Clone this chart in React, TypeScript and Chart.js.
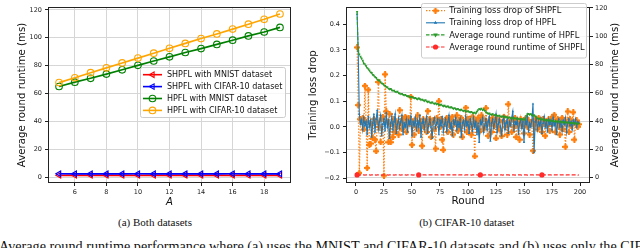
import React, { useEffect, useRef } from "react";
import { Chart, registerables } from "chart.js";
import { drawPoint } from "chart.js/helpers";

Chart.register(...registerables);

const FONT = "'DejaVu Sans', sans-serif";

// ---------- (a) Both datasets ----------
const A_VALUES = [5, 6, 7, 8, 9, 10, 11, 12, 13, 14, 15, 16, 17, 18, 19];
const SHPFL_MNIST = [1.32, 1.28, 1.31, 1.29, 1.3, 1.33, 1.27, 1.3, 1.31, 1.29, 1.3, 1.32, 1.28, 1.3, 1.31];
const SHPFL_CIFAR = [2.42, 2.38, 2.41, 2.39, 2.4, 2.43, 2.37, 2.4, 2.41, 2.39, 2.4, 2.42, 2.38, 2.4, 2.41];
const HPFL_MNIST = [65.0, 68.1, 70.9, 73.9, 77.0, 80.2, 83.3, 86.3, 89.4, 92.2, 95.2, 98.2, 101.3, 104.1, 107.4];
const HPFL_CIFAR = [67.8, 71.3, 74.9, 78.4, 81.9, 85.4, 88.9, 92.4, 95.9, 99.4, 102.7, 106.2, 109.7, 113.2, 117.0];
const A_TICKS = [6, 8, 10, 12, 14, 16, 18];
const RUNTIME_A_TICKS = [0, 20, 40, 60, 80, 100, 120];

// ---------- (b) CIFAR-10 dataset ----------
const ROUNDS = Array.from({ length: 199 }, (_, i) => i + 1);
const LOSS_SHPFL = [
  0.31, 0.085, -0.18, 0.03, 0.02, 0.035, -0.01, 0.16, 0.02, -0.16,
  0.145, -0.07, -0.065, 0.01, -0.045, 0.03, -0.05, -0.095, 0.02, 0.175,
  0.0, -0.06, 0.03, 0.04, -0.19, 0.205, 0.06, 0.02, -0.06, 0.05,
  -0.06, 0.01, -0.04, 0.03, -0.02, 0.02, 0.0, -0.03, 0.065, 0.015,
  -0.01, 0.03, 0.005, 0.04, -0.02, 0.025, 0.035, 0.01, 0.117, -0.07,
  0.02, -0.03, 0.03, 0.0, 0.045, -0.015, 0.02, 0.01, -0.074, 0.03,
  0.0, 0.02, -0.02, 0.062, 0.01, 0.03, -0.04, 0.015, 0.025, -0.01,
  -0.085, 0.035, 0.02, 0.1, 0.0, 0.03, -0.05, -0.09, 0.02, 0.01,
  0.035, -0.02, 0.015, 0.03, 0.0, 0.04, -0.03, 0.02, 0.01, 0.045,
  -0.015, 0.025, 0.0, 0.035, -0.04, 0.02, 0.01, 0.075, -0.02, 0.03,
  0.0, 0.02, -0.03, 0.04, 0.01, -0.115, 0.025, 0.0, 0.035, -0.02,
  0.02, 0.045, -0.01, 0.03, 0.0, 0.073, 0.01, -0.035, 0.025, 0.015,
  -0.02, 0.035, 0.005, 0.02, -0.045, 0.03, 0.0, 0.025, -0.015, -0.036,
  0.02, 0.04, 0.0, 0.015, -0.03, 0.088, 0.01, 0.025, -0.02, 0.03,
  0.0, 0.035, -0.04, 0.02, 0.01, -0.05, 0.03, 0.005, 0.02, -0.025,
  0.015, 0.035, 0.0, 0.025, -0.03, 0.02, 0.01, -0.093, 0.005, 0.03,
  0.02, -0.01, 0.035, 0.0, 0.025, -0.02, 0.03, 0.01, -0.035, 0.02,
  0.005, 0.03, -0.015, 0.025, 0.01, 0.04, 0.047, -0.02, 0.015, 0.03,
  0.0, -0.03, 0.02, 0.035, -0.01, 0.025, -0.078, 0.01, 0.06, -0.02,
  0.03, 0.005, 0.02, 0.057, -0.05, 0.015, 0.025, 0.0, 0.01,
];
const LOSS_HPFL = [
  0.44, 0.295, 0.05, 0.012, 0.028, -0.01, 0.035, 0.005, 0.02, -0.03,
  0.04, 0.0, 0.025, -0.04, 0.015, 0.05, -0.02, 0.03, 0.065, -0.01,
  0.02, 0.045, -0.035, 0.01, 0.03, -0.015, 0.055, 0.0, 0.025, -0.045,
  0.015, 0.04, -0.01, 0.02, 0.05, -0.025, 0.01, 0.035, -0.005, 0.02,
  0.045, -0.03, 0.015, 0.0, 0.03, -0.02, 0.025, 0.01, 0.04, -0.035,
  0.02, 0.005, 0.035, -0.015, 0.025, 0.0, 0.045, -0.04, 0.015, 0.03,
  -0.01, 0.02, 0.04, -0.025, 0.01, 0.03, 0.0, -0.045, 0.02, 0.035,
  -0.005, 0.015, 0.03, -0.03, 0.025, 0.005, 0.04, -0.02, 0.01, 0.03,
  -0.015, 0.02, 0.045, -0.005, 0.015, -0.035, 0.025, 0.01, 0.035, -0.01,
  0.02, 0.0, 0.03, -0.04, 0.015, 0.025, -0.01, 0.04, 0.005, 0.02,
  -0.025, 0.03, 0.01, -0.015, 0.035, 0.0, 0.02, -0.03, 0.015, -0.06,
  0.025, 0.01, 0.035, -0.02, 0.005, 0.03, -0.01, 0.02, 0.04, -0.055,
  0.015, 0.03, -0.005, 0.02, 0.05, -0.02, 0.01, 0.03, 0.0, -0.035,
  0.025, 0.04, -0.01, 0.015, 0.03, -0.025, 0.02, 0.005, 0.035, 0.06,
  -0.015, 0.02, 0.01, 0.03, -0.03, 0.015, 0.025, -0.005, 0.02, -0.06,
  0.03, 0.01, 0.04, -0.02, 0.015, 0.0, 0.025, 0.09, -0.1, 0.02,
  0.035, -0.01, 0.02, 0.005, 0.03, -0.025, 0.015, 0.04, 0.0, 0.02,
  -0.02, 0.03, 0.01, 0.025, -0.01, 0.035, 0.005, 0.02, -0.03, 0.015,
  0.03, 0.0, 0.02, -0.015, 0.025, 0.01, 0.035, -0.02, 0.015, 0.03,
  0.005, 0.02, -0.01, 0.025, 0.01, 0.03, 0.0, 0.02, 0.015,
];
const RUNTIME_HPFL = [
  117.2, 89.5, 87.1, 85.6, 84.2, 82.9, 80.8, 80.1, 79.0, 77.6,
  76.9, 75.8, 74.6, 74.1, 72.8, 72.3, 71.2, 70.6, 69.4, 68.7,
  68.9, 67.5, 66.8, 66.4, 65.3, 65.0, 64.2, 63.9, 63.1, 62.6,
  62.8, 61.9, 61.4, 61.7, 60.8, 60.5, 60.9, 59.8, 59.6, 59.1,
  59.4, 58.7, 58.2, 58.6, 57.9, 57.5, 57.8, 57.1, 56.8, 57.2,
  56.5, 56.1, 56.6, 55.9, 55.4, 56.2, 55.6, 55.0, 55.3, 54.7,
  54.3, 54.9, 54.1, 53.6, 53.9, 53.2, 52.8, 53.4, 52.6, 52.3,
  52.7, 51.9, 52.2, 51.6, 51.3, 51.8, 51.0, 50.6, 51.1, 50.4,
  50.1, 50.5, 49.8, 49.4, 49.9, 49.2, 48.8, 49.3, 48.6, 48.3,
  48.7, 48.0, 47.7, 48.2, 47.5, 47.2, 47.6, 46.9, 46.7, 47.1,
  46.5, 46.2, 46.6, 45.9, 45.7, 46.1, 45.4, 46.8, 47.9, 48.6,
  48.2, 48.9, 47.8, 48.4, 47.3, 46.5, 45.8, 45.2, 45.6, 44.9,
  44.6, 45.0, 44.3, 44.1, 44.5, 43.8, 43.6, 44.0, 43.3, 43.1,
  43.5, 42.8, 43.2, 42.6, 42.9, 42.3, 42.7, 42.1, 42.4, 41.9,
  42.2, 41.7, 42.0, 41.5, 41.8, 41.3, 41.6, 41.1, 41.4, 40.9,
  41.2, 43.6, 44.8, 45.3, 44.6, 45.1, 44.2, 43.8, 44.4, 43.5,
  42.7, 42.1, 41.6, 41.9, 41.3, 41.0, 41.4, 40.8, 40.6, 41.0,
  40.4, 40.7, 40.2, 40.5, 39.9, 40.3, 39.8, 40.1, 39.6, 39.9,
  39.5, 39.8, 39.3, 39.6, 39.1, 39.4, 38.9, 39.2, 38.8, 39.0,
  38.6, 38.9, 38.5, 38.7, 38.3, 38.6, 38.2, 38.4, 38.1,
];
const RUNTIME_SHPFL = [
  2.0, 2.1, 1.9, 2.0, 2.0, 2.1, 2.0, 1.9, 2.0, 2.1,
  2.0, 2.0, 1.9, 2.1, 2.0, 2.0, 2.1, 1.9, 2.0, 2.0,
  2.1, 2.0, 1.9, 2.0, 2.0, 2.1, 2.0, 2.0, 1.9, 2.0,
  2.0, 2.1, 2.0, 1.9, 2.0, 2.0, 2.1, 2.0, 2.0, 1.9,
  2.0, 2.0, 2.1, 2.0, 1.9, 2.0, 2.1, 2.0, 2.0, 2.0,
  1.9, 2.0, 2.1, 2.0, 2.0, 2.0, 1.9, 2.1, 2.0, 2.0,
  2.0, 2.1, 1.9, 2.0, 2.0, 2.0, 2.1, 2.0, 1.9, 2.0,
  2.1, 2.0, 2.0, 1.9, 2.0, 2.1, 2.0, 2.0, 2.0, 1.9,
  2.0, 2.1, 2.0, 2.0, 1.9, 2.0, 2.0, 2.1, 2.0, 2.0,
  1.9, 2.0, 2.1, 2.0, 2.0, 2.0, 1.9, 2.0, 2.1, 2.0,
  2.0, 2.0, 1.9, 2.1, 2.0, 2.0, 2.0, 2.1, 1.9, 2.0,
  2.0, 2.1, 2.0, 1.9, 2.0, 2.0, 2.1, 2.0, 2.0, 1.9,
  2.0, 2.0, 2.1, 2.0, 1.9, 2.0, 2.0, 2.1, 2.0, 2.0,
  1.9, 2.0, 2.0, 2.1, 2.0, 2.0, 1.9, 2.0, 2.1, 2.0,
  2.0, 1.9, 2.0, 2.0, 2.1, 2.0, 2.0, 1.9, 2.0, 2.1,
  2.0, 2.0, 1.9, 2.0, 2.1, 2.0, 2.0, 2.0, 1.9, 2.0,
  2.1, 2.0, 2.0, 1.9, 2.0, 2.0, 2.1, 2.0, 2.0, 1.9,
  2.0, 2.1, 2.0, 2.0, 1.9, 2.0, 2.0, 2.1, 2.0, 2.0,
  1.9, 2.0, 2.1, 2.0, 2.0, 2.0, 1.9, 2.0, 2.1, 2.0,
  2.0, 1.9, 2.0, 2.1, 2.0, 2.0, 2.0, 1.9, 2.0,
];
const ROUND_TICKS = [0, 25, 50, 75, 100, 125, 150, 175, 200];
const LOSS_TICKS = [-0.2, -0.1, 0.0, 0.1, 0.2, 0.3, 0.4];
const RUNTIME_B_TICKS = [0, 20, 40, 60, 80, 100, 120];

const TICK_COLOR = "#222";
const GRID_COLOR = "#d6d6d6";

function makePlus(color: string): HTMLCanvasElement {
  const c = document.createElement("canvas");
  c.width = 6;
  c.height = 6;
  const g = c.getContext("2d")!;
  g.fillStyle = color;
  g.beginPath();
  g.moveTo(2, 0); g.lineTo(4, 0); g.lineTo(4, 2); g.lineTo(6, 2); g.lineTo(6, 4);
  g.lineTo(4, 4); g.lineTo(4, 6); g.lineTo(2, 6); g.lineTo(2, 4); g.lineTo(0, 4);
  g.lineTo(0, 2); g.lineTo(2, 2); g.closePath();
  g.fill();
  g.globalAlpha = 0.55;
  g.fillRect(1, 1, 4, 4);
  return c;
}

type LegendEntry = {
  label: string;
  color: string;
  dash: number[];
  lineWidth: number;
  point: any;
  fill: string;
};

function legendPlugin(
  id: string,
  box: { x: number; y: number; w: number; h: number },
  rows: { y0: number; dy: number; x0: number; x1: number; tx: number },
  entries: LegendEntry[],
  fontSize: number
) {
  return {
    id,
    afterDraw(chart: any) {
      const ctx: CanvasRenderingContext2D = chart.ctx;
      ctx.save();
      ctx.beginPath();
      const r = 2;
      const { x, y, w, h } = box;
      ctx.moveTo(x + r, y);
      ctx.lineTo(x + w - r, y);
      ctx.quadraticCurveTo(x + w, y, x + w, y + r);
      ctx.lineTo(x + w, y + h - r);
      ctx.quadraticCurveTo(x + w, y + h, x + w - r, y + h);
      ctx.lineTo(x + r, y + h);
      ctx.quadraticCurveTo(x, y + h, x, y + h - r);
      ctx.lineTo(x, y + r);
      ctx.quadraticCurveTo(x, y, x + r, y);
      ctx.closePath();
      ctx.fillStyle = "rgba(255,255,255,0.8)";
      ctx.fill();
      ctx.strokeStyle = "#cccccc";
      ctx.lineWidth = 1;
      ctx.stroke();
      entries.forEach((e, i) => {
        const yy = rows.y0 + i * rows.dy;
        ctx.beginPath();
        ctx.setLineDash(e.dash);
        ctx.strokeStyle = e.color;
        ctx.lineWidth = e.lineWidth;
        ctx.moveTo(rows.x0, yy);
        ctx.lineTo(rows.x1, yy);
        ctx.stroke();
        ctx.setLineDash([]);
        ctx.fillStyle = e.fill;
        ctx.strokeStyle = e.color;
        ctx.lineWidth = e.point.borderWidth || 0;
        drawPoint(ctx, e.point, (rows.x0 + rows.x1) / 2, yy);
        ctx.fillStyle = "#111";
        ctx.font = `${fontSize}px ${FONT}`;
        ctx.textBaseline = "middle";
        ctx.textAlign = "left";
        ctx.fillText(e.label, rows.tx, yy + 0.5);
      });
      ctx.restore();
    },
  };
}

const framePlugin = {
  id: "frame",
  afterDatasetsDraw(chart: any) {
    const { ctx, chartArea } = chart;
    ctx.save();
    ctx.strokeStyle = "#222";
    ctx.lineWidth = 1;
    const l = Math.round(chartArea.left) + 0.5;
    const t = Math.round(chartArea.top) + 0.5;
    const rr = Math.round(chartArea.right) - 0.5;
    const b = Math.round(chartArea.bottom) - 0.5;
    ctx.strokeRect(l, t, rr - l, b - t);
    ctx.restore();
  },
};

function fixedTicks(values: number[]) {
  return (scale: any) => {
    scale.ticks = values.map((v) => ({ value: v }));
  };
}

export default function App() {
  const leftRef = useRef<HTMLCanvasElement>(null);
  const rightRef = useRef<HTMLCanvasElement>(null);

  useEffect(() => {
    Chart.defaults.font.family = FONT;
    const tickFont = { size: 6.5, family: FONT };
    const titleFont = { size: 10.2, family: FONT };

    // ---------- Left chart ----------
    const leftEntries: LegendEntry[] = [
      { label: "SHPFL with MNIST dataset", color: "red", dash: [], lineWidth: 1.6, fill: "rgba(0,0,0,0)", point: { pointStyle: "triangle", rotation: -90, radius: 3.2, borderWidth: 1.1 } },
      { label: "SHPFL with CIFAR-10 dataset", color: "blue", dash: [], lineWidth: 1.6, fill: "rgba(0,0,0,0)", point: { pointStyle: "triangle", rotation: -90, radius: 3.2, borderWidth: 1.1 } },
      { label: "HPFL with MNIST dataset", color: "green", dash: [], lineWidth: 1.6, fill: "rgba(0,0,0,0)", point: { pointStyle: "circle", rotation: 0, radius: 3.3, borderWidth: 1.1 } },
      { label: "HPFL with CIFAR-10 dataset", color: "orange", dash: [], lineWidth: 1.6, fill: "rgba(0,0,0,0)", point: { pointStyle: "circle", rotation: 0, radius: 3.3, borderWidth: 1.1 } },
    ];
    const leftSeries = [SHPFL_MNIST, SHPFL_CIFAR, HPFL_MNIST, HPFL_CIFAR];
    const left = new Chart(leftRef.current!, {
      type: "line",
      data: {
        datasets: leftEntries.map((e, k) => ({
          label: e.label,
          data: A_VALUES.map((a, i) => ({ x: a, y: leftSeries[k][i] })),
          borderColor: e.color,
          borderWidth: 1.7,
          pointStyle: e.point.pointStyle,
          rotation: e.point.rotation,
          pointRadius: e.point.radius,
          pointBorderWidth: e.point.borderWidth,
          pointBorderColor: e.color,
          pointBackgroundColor: "rgba(0,0,0,0)",
          order: 4 - k,
        })),
      },
      options: {
        animation: false,
        responsive: false,
        events: [],
        layout: { padding: { top: 3, right: 14, left: 0, bottom: 0 } },
        plugins: { legend: { display: false }, tooltip: { enabled: false } },
        scales: {
          x: {
            type: "linear",
            min: 4.3,
            max: 19.7,
            afterBuildTicks: fixedTicks(A_TICKS),
            afterFit: (s: any) => { s.height = 32; },
            ticks: { font: tickFont, color: TICK_COLOR, padding: 2, maxRotation: 0, autoSkip: false },
            grid: { color: GRID_COLOR, tickColor: TICK_COLOR, tickLength: 3 },
            border: { display: false },
            title: { display: true, text: "A", color: "#111", font: { size: 10.2, family: FONT, style: "italic" }, padding: { top: 0, bottom: 7 } },
          },
          y: {
            type: "linear",
            min: -4.2,
            max: 122.1,
            afterBuildTicks: fixedTicks(RUNTIME_A_TICKS),
            afterFit: (s: any) => { s.width = 48; },
            ticks: { font: tickFont, color: TICK_COLOR, padding: 3, autoSkip: false },
            grid: { color: GRID_COLOR, tickColor: TICK_COLOR, tickLength: 3 },
            border: { display: false },
            title: { display: true, text: "Average round runtime (ms)", color: "#111", font: titleFont, padding: { top: 16.5, bottom: 0 } },
          },
        },
      } as any,
      plugins: [
        framePlugin,
        legendPlugin("legA", { x: 140.5, y: 67.5, w: 145, h: 50 }, { y0: 74.7, dy: 11.9, x0: 143, x1: 162, tx: 167 }, leftEntries, 8),
      ],
    });

    // ---------- Right chart ----------
    const plusImg = makePlus("#ff7f0e");
    const rightEntries: LegendEntry[] = [
      { label: "Training loss drop of SHPFL", color: "#ff7f0e", dash: [1.4, 1.6], lineWidth: 1.3, fill: "#ff7f0e", point: { pointStyle: plusImg, rotation: 0, radius: 3, borderWidth: 0 } },
      { label: "Training loss drop of HPFL", color: "#1f77b4", dash: [], lineWidth: 1.1, fill: "#1f77b4", point: { pointStyle: "triangle", rotation: 0, radius: 2, borderWidth: 0 } },
      { label: "Average round runtime of HPFL", color: "#2a9a2a", dash: [3.5, 1.5], lineWidth: 1.1, fill: "#2a9a2a", point: { pointStyle: "triangle", rotation: 180, radius: 2.6, borderWidth: 0 } },
      { label: "Average round runtime of SHPFL", color: "#ff2a2a", dash: [3.5, 1.5], lineWidth: 1.1, fill: "#ff2a2a", point: { pointStyle: "circle", rotation: 0, radius: 2.6, borderWidth: 0 } },
    ];
    const rightTitlePlugin = {
      id: "rightTitle",
      afterDraw(chart: any) {
        const { ctx, chartArea } = chart;
        ctx.save();
        ctx.translate(310, (chartArea.top + chartArea.bottom) / 2);
        ctx.rotate(-Math.PI / 2);
        ctx.font = `10.2px ${FONT}`;
        ctx.fillStyle = "#111";
        ctx.textAlign = "center";
        ctx.textBaseline = "middle";
        ctx.fillText("Average round runtime (ms)", 0, 0);
        ctx.restore();
      },
    };
    const right = new Chart(rightRef.current!, {
      type: "line",
      data: {
        datasets: [
          {
            label: rightEntries[0].label,
            yAxisID: "y",
            data: ROUNDS.map((r, i) => ({ x: r, y: LOSS_SHPFL[i] })),
            borderColor: "#ff7f0e",
            borderWidth: 1.3,
            borderDash: [1.4, 1.6],
            pointStyle: plusImg,
            pointRadius: 3,
            order: 4,
          },
          {
            label: rightEntries[1].label,
            yAxisID: "y",
            data: ROUNDS.map((r, i) => ({ x: r, y: LOSS_HPFL[i] })),
            borderColor: "#1f77b4",
            borderWidth: 1.1,
            pointStyle: "triangle",
            pointRadius: 1.4,
            pointBorderWidth: 0,
            pointBackgroundColor: "#1f77b4",
            order: 3,
          },
          {
            label: rightEntries[2].label,
            yAxisID: "y1",
            data: ROUNDS.map((r, i) => ({ x: r, y: RUNTIME_HPFL[i] })),
            borderColor: "#2a9a2a",
            borderWidth: 1.1,
            borderDash: [3.5, 1.5],
            pointStyle: "triangle",
            rotation: 180,
            pointRadius: 1.5,
            pointBorderWidth: 0,
            pointBackgroundColor: "#2a9a2a",
            order: 2,
          },
          {
            label: rightEntries[3].label,
            yAxisID: "y1",
            data: ROUNDS.map((r, i) => ({ x: r, y: RUNTIME_SHPFL[i] })),
            borderColor: "#ff2a2a",
            borderWidth: 1.3,
            borderDash: [4, 2],
            pointStyle: "circle",
            pointRadius: (c: any) => (c.dataIndex % 55 === 0 ? 2.6 : 0),
            pointBorderWidth: 0,
            pointBackgroundColor: "#ff2a2a",
            order: 1,
          },
        ],
      },
      options: {
        animation: false,
        responsive: false,
        events: [],
        layout: { padding: { top: 3, right: 0, left: 0, bottom: 0 } },
        plugins: { legend: { display: false }, tooltip: { enabled: false } },
        scales: {
          x: {
            type: "linear",
            min: -8.9,
            max: 208.9,
            afterBuildTicks: fixedTicks(ROUND_TICKS),
            afterFit: (s: any) => { s.height = 32; },
            ticks: { font: tickFont, color: TICK_COLOR, padding: 2, maxRotation: 0, autoSkip: false },
            grid: { drawOnChartArea: false, tickColor: TICK_COLOR, tickLength: 3 },
            border: { display: false },
            title: { display: true, text: "Round", color: "#111", font: { size: 10.5, family: FONT }, padding: { top: 0, bottom: 7 } },
          },
          y: {
            type: "linear",
            position: "left",
            min: -0.219,
            max: 0.468,
            afterBuildTicks: fixedTicks(LOSS_TICKS),
            afterFit: (s: any) => { s.width = 41; },
            ticks: {
              font: tickFont,
              color: TICK_COLOR,
              padding: 3,
              autoSkip: false,
              callback: (v: any) => (v < -1e-9 ? "\u2212" : "") + Math.abs(Number(v)).toFixed(1),
            },
            grid: { drawOnChartArea: false, tickColor: TICK_COLOR, tickLength: 3 },
            border: { display: false },
            title: { display: true, text: "Training loss drop", color: "#111", font: titleFont, padding: { top: 2, bottom: 0 } },
          },
          y1: {
            type: "linear",
            position: "right",
            min: -3.7,
            max: 120.7,
            afterBuildTicks: fixedTicks(RUNTIME_B_TICKS),
            afterFit: (s: any) => { s.width = 50; },
            ticks: { font: tickFont, color: TICK_COLOR, padding: 2, autoSkip: false },
            grid: { color: GRID_COLOR, tickColor: TICK_COLOR, tickLength: 3 },
            border: { display: false },
            title: { display: false },
          },
        },
      } as any,
      plugins: [
        framePlugin,
        rightTitlePlugin,
        legendPlugin("legB", { x: 116.5, y: 3.5, w: 165, h: 54.5 }, { y0: 10.7, dy: 12.1, x0: 121, x1: 140, tx: 144.3 }, rightEntries, 8.3),
      ],
    });

    return () => {
      left.destroy();
      right.destroy();
    };
  }, []);

  const serif = "'Liberation Serif', 'Times New Roman', serif";
  return (
    <div style={{ position: "absolute", left: 0, top: 0, width: 640, height: 248, overflow: "hidden", background: "#fff" }}>
      <canvas ref={leftRef} width={305} height={215} style={{ position: "absolute", left: 0, top: 0, width: 305, height: 215 }} />
      <canvas ref={rightRef} width={335} height={215} style={{ position: "absolute", left: 305, top: 0, width: 335, height: 215 }} />
      <div style={{ position: "absolute", left: 55, width: 200, top: 217.3, textAlign: "center", fontFamily: serif, fontSize: 11, lineHeight: "11px", color: "#111", whiteSpace: "nowrap" }}>
        (a) Both datasets
      </div>
      <div style={{ position: "absolute", left: 366.7, width: 200, top: 217.3, textAlign: "center", fontFamily: serif, fontSize: 11, lineHeight: "11px", color: "#111", whiteSpace: "nowrap" }}>
        (b) CIFAR-10 dataset
      </div>
      <div style={{ position: "absolute", left: -1, top: 239.3, fontFamily: serif, fontSize: 14.2, lineHeight: "14px", color: "#111", whiteSpace: "nowrap" }}>
        Average round runtime performance where (a) uses the MNIST and CIFAR-10 datasets and (b) uses only the CIFAR-10 dataset.
      </div>
    </div>
  );
}
